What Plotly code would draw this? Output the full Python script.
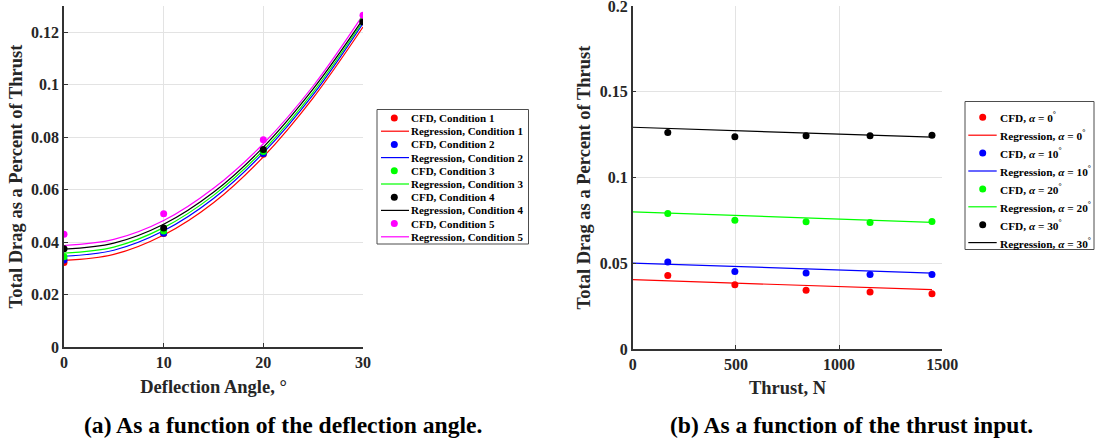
import plotly.graph_objects as go

# ---------------- data: left panel (deflection angle) ----------------
deflection = [0, 10, 20, 30]
cfd_cond1 = [0.0322, 0.0433, 0.0735, 0.1240]
cfd_cond2 = [0.0332, 0.0434, 0.0738, 0.1240]
cfd_cond3 = [0.0344, 0.0442, 0.0745, 0.1245]
cfd_cond4 = [0.0375, 0.0454, 0.0753, 0.1240]
cfd_cond5 = [0.0430, 0.0508, 0.0790, 0.1265]

reg_angle = [0, 5, 10, 15, 20, 25, 30]
reg_cond1 = [0.0330, 0.0353, 0.0427, 0.0550, 0.0725, 0.0950, 0.1220]
reg_cond2 = [0.0346, 0.0369, 0.0443, 0.0566, 0.0740, 0.0962, 0.1234]
reg_cond3 = [0.0358, 0.0381, 0.0455, 0.0578, 0.0750, 0.0972, 0.1242]
reg_cond4 = [0.0373, 0.0396, 0.0468, 0.0590, 0.0762, 0.0984, 0.1250]
reg_cond5 = [0.0387, 0.0410, 0.0482, 0.0605, 0.0775, 0.0995, 0.1266]

# ---------------- data: right panel (thrust) ----------------
thrust = [170, 495, 840, 1150, 1450]
cfd_a0 = [0.0429, 0.0375, 0.0342, 0.0332, 0.0322]
cfd_a10 = [0.0507, 0.0452, 0.0443, 0.0435, 0.0435]
cfd_a20 = [0.0790, 0.0751, 0.0742, 0.0738, 0.0744]
cfd_a30 = [0.1262, 0.1237, 0.1243, 0.1243, 0.1247]

reg_thrust = [0, 1450]
reg_a0 = [0.0404, 0.0346]
reg_a10 = [0.0501, 0.0443]
reg_a20 = [0.0800, 0.0738]
reg_a30 = [0.1293, 0.1235]

left_conditions = ["Condition 1", "Condition 2", "Condition 3", "Condition 4", "Condition 5"]
right_alphas = ["0", "10", "20", "30"]

left_xticks = [0, 10, 20, 30]
left_xticklabels = ["0", "10", "20", "30"]
left_yticks = [0, 0.02, 0.04, 0.06, 0.08, 0.1, 0.12]
left_yticklabels = ["0", "0.02", "0.04", "0.06", "0.08", "0.1", "0.12"]
right_xticks = [0, 500, 1000, 1500]
right_xticklabels = ["0", "500", "1000", "1500"]
right_yticks = [0, 0.05, 0.1, 0.15, 0.2]
right_yticklabels = ["0", "0.05", "0.1", "0.15", "0.2"]

FONT = "Liberation Serif"
TXT = "#262626"
colors5 = ["#ff0000", "#0000ff", "#00ff00", "#000000", "#ff00ff"]
colors4 = ["#ff0000", "#0000ff", "#00ff00", "#000000"]

W, H = 1095, 442
def px(x):
    return x / W
def py(y):
    return 1 - y / H

fig = go.Figure()

left_cfd = [cfd_cond1, cfd_cond2, cfd_cond3, cfd_cond4, cfd_cond5]
left_reg = [reg_cond1, reg_cond2, reg_cond3, reg_cond4, reg_cond5]
for i in range(5):
    fig.add_trace(go.Scatter(
        x=reg_angle, y=left_reg[i], mode="lines",
        line=dict(color=colors5[i], width=1.2, shape="spline"),
        name="Regression, " + left_conditions[i], showlegend=False, xaxis="x", yaxis="y"))
for i in range(5):
    fig.add_trace(go.Scatter(
        x=deflection, y=left_cfd[i], mode="markers", marker=dict(color=colors5[i], size=7),
        name="CFD, " + left_conditions[i], showlegend=False, xaxis="x", yaxis="y"))

right_cfd = [cfd_a0, cfd_a10, cfd_a20, cfd_a30]
right_reg = [reg_a0, reg_a10, reg_a20, reg_a30]
for i in range(4):
    fig.add_trace(go.Scatter(
        x=reg_thrust, y=right_reg[i], mode="lines", line=dict(color=colors4[i], width=1.2),
        name="Regression, α = " + right_alphas[i], showlegend=False, xaxis="x2", yaxis="y2"))
for i in range(4):
    fig.add_trace(go.Scatter(
        x=thrust, y=right_cfd[i], mode="markers", marker=dict(color=colors4[i], size=7),
        name="CFD, α = " + right_alphas[i], showlegend=False, xaxis="x2", yaxis="y2"))

axis_common = dict(
    showgrid=True, gridcolor="#e3e3e3", gridwidth=1,
    showline=True, linecolor="#333333", linewidth=1.5,
    ticks="inside", ticklen=4, tickcolor="#333333",
    tickfont=dict(family=FONT, size=16, color=TXT, weight="bold"),
    ticklabeloverflow="allow",
    zeroline=False, mirror=False, automargin=False,
)
title_font = dict(family=FONT, size=18.5, color=TXT, weight="bold")

def bold(lst):
    return ["<b>%s</b>" % s for s in lst]

# ---------------- custom legends (shapes + real text) ----------------
shapes = []
annotations = []

def legend_box(x0, y0, x1, y1):
    shapes.append(dict(type="rect", xref="paper", yref="paper",
                       x0=px(x0), x1=px(x1), y0=py(y1), y1=py(y0),
                       line=dict(color="#4d4d4d", width=1), fillcolor="white", layer="above"))

def legend_marker(cx, cy, color, r=3.5):
    shapes.append(dict(type="circle", xref="paper", yref="paper",
                       x0=px(cx - r), x1=px(cx + r), y0=py(cy + r), y1=py(cy - r),
                       line=dict(color=color, width=0), fillcolor=color, layer="above"))

def legend_line(xa, xb, cy, color):
    shapes.append(dict(type="line", xref="paper", yref="paper",
                       x0=px(xa), x1=px(xb), y0=py(cy), y1=py(cy),
                       line=dict(color=color, width=1.2), layer="above"))

def legend_text(x, cy, text, size):
    annotations.append(dict(text=text, x=px(x), y=py(cy), xref="paper", yref="paper",
                            showarrow=False, xanchor="left", yanchor="middle", borderpad=0,
                            font=dict(family=FONT, size=size, color="#000000")))

# left legend
legend_box(377, 109.5, 528.5, 244)
for i in range(5):
    yc = 118 + 13.2 * (2 * i)
    yr = 118 + 13.2 * (2 * i + 1)
    legend_marker(394.3, yc, colors5[i])
    legend_text(409.5, yc, "<b>CFD, " + left_conditions[i] + "</b>", 11)
    legend_line(381, 409, yr, colors5[i])
    legend_text(409.5, yr, "<b>Regression, " + left_conditions[i] + "</b>", 11)

# right legend
legend_box(965, 101.5, 1094, 249.5)
for i in range(4):
    yc = 117.3 + 17.9 * (2 * i)
    yr = 117.3 + 17.9 * (2 * i + 1)
    legend_marker(982.7, yc, colors4[i])
    legend_text(999, yc, "<b>CFD, <i>α</i> = " + right_alphas[i] + "<sup>°</sup></b>", 11.3)
    legend_line(968.3, 996.7, yr, colors4[i])
    legend_text(999, yr, "<b>Regression, <i>α</i> = " + right_alphas[i] + "<sup>°</sup></b>", 11.3)

# captions
annotations.append(dict(text="<b>(a) As a function of the deflection angle.</b>", x=px(283), y=py(425),
                        xref="paper", yref="paper", showarrow=False, xanchor="center", yanchor="middle",
                        font=dict(family=FONT, size=23.6, color="#000000")))
annotations.append(dict(text="<b>(b) As a function of the thrust input.</b>", x=px(851), y=py(425),
                        xref="paper", yref="paper", showarrow=False, xanchor="center", yanchor="middle",
                        font=dict(family=FONT, size=23.6, color="#000000")))

fig.update_layout(
    width=W, height=H,
    margin=dict(l=0, r=0, t=0, b=0, autoexpand=False),
    paper_bgcolor="white", plot_bgcolor="white",
    font=dict(family=FONT, color="#000000"),
    showlegend=False,
    xaxis=dict(domain=[px(64), px(363)], range=[0, 30],
               tickvals=left_xticks, ticktext=bold(left_xticklabels),
               title=dict(text="<b>Deflection Angle, °</b>", font=title_font, standoff=10),
               anchor="y", **axis_common),
    yaxis=dict(domain=[py(347), py(6)], range=[0, 0.13],
               tickvals=left_yticks, ticktext=bold(left_yticklabels),
               title=dict(text="<b>Total Drag as a Percent of Thrust</b>", font=title_font, standoff=4),
               anchor="x", **axis_common),
    xaxis2=dict(domain=[px(632.7), px(942.3)], range=[0, 1500],
                tickvals=right_xticks, ticktext=bold(right_xticklabels),
                title=dict(text="<b>Thrust, N</b>", font=title_font, standoff=9),
                anchor="y2", **axis_common),
    yaxis2=dict(domain=[py(349), py(6)], range=[0, 0.2],
                tickvals=right_yticks, ticktext=bold(right_yticklabels),
                title=dict(text="<b>Total Drag as a Percent of Thrust</b>", font=title_font, standoff=4),
                anchor="x2", **axis_common),
    shapes=shapes,
    annotations=annotations,
)

fig.write_html("out.html",
               config={"displayModeBar": False},
               post_script="document.body.style.margin='0';document.body.style.overflow='hidden';")
